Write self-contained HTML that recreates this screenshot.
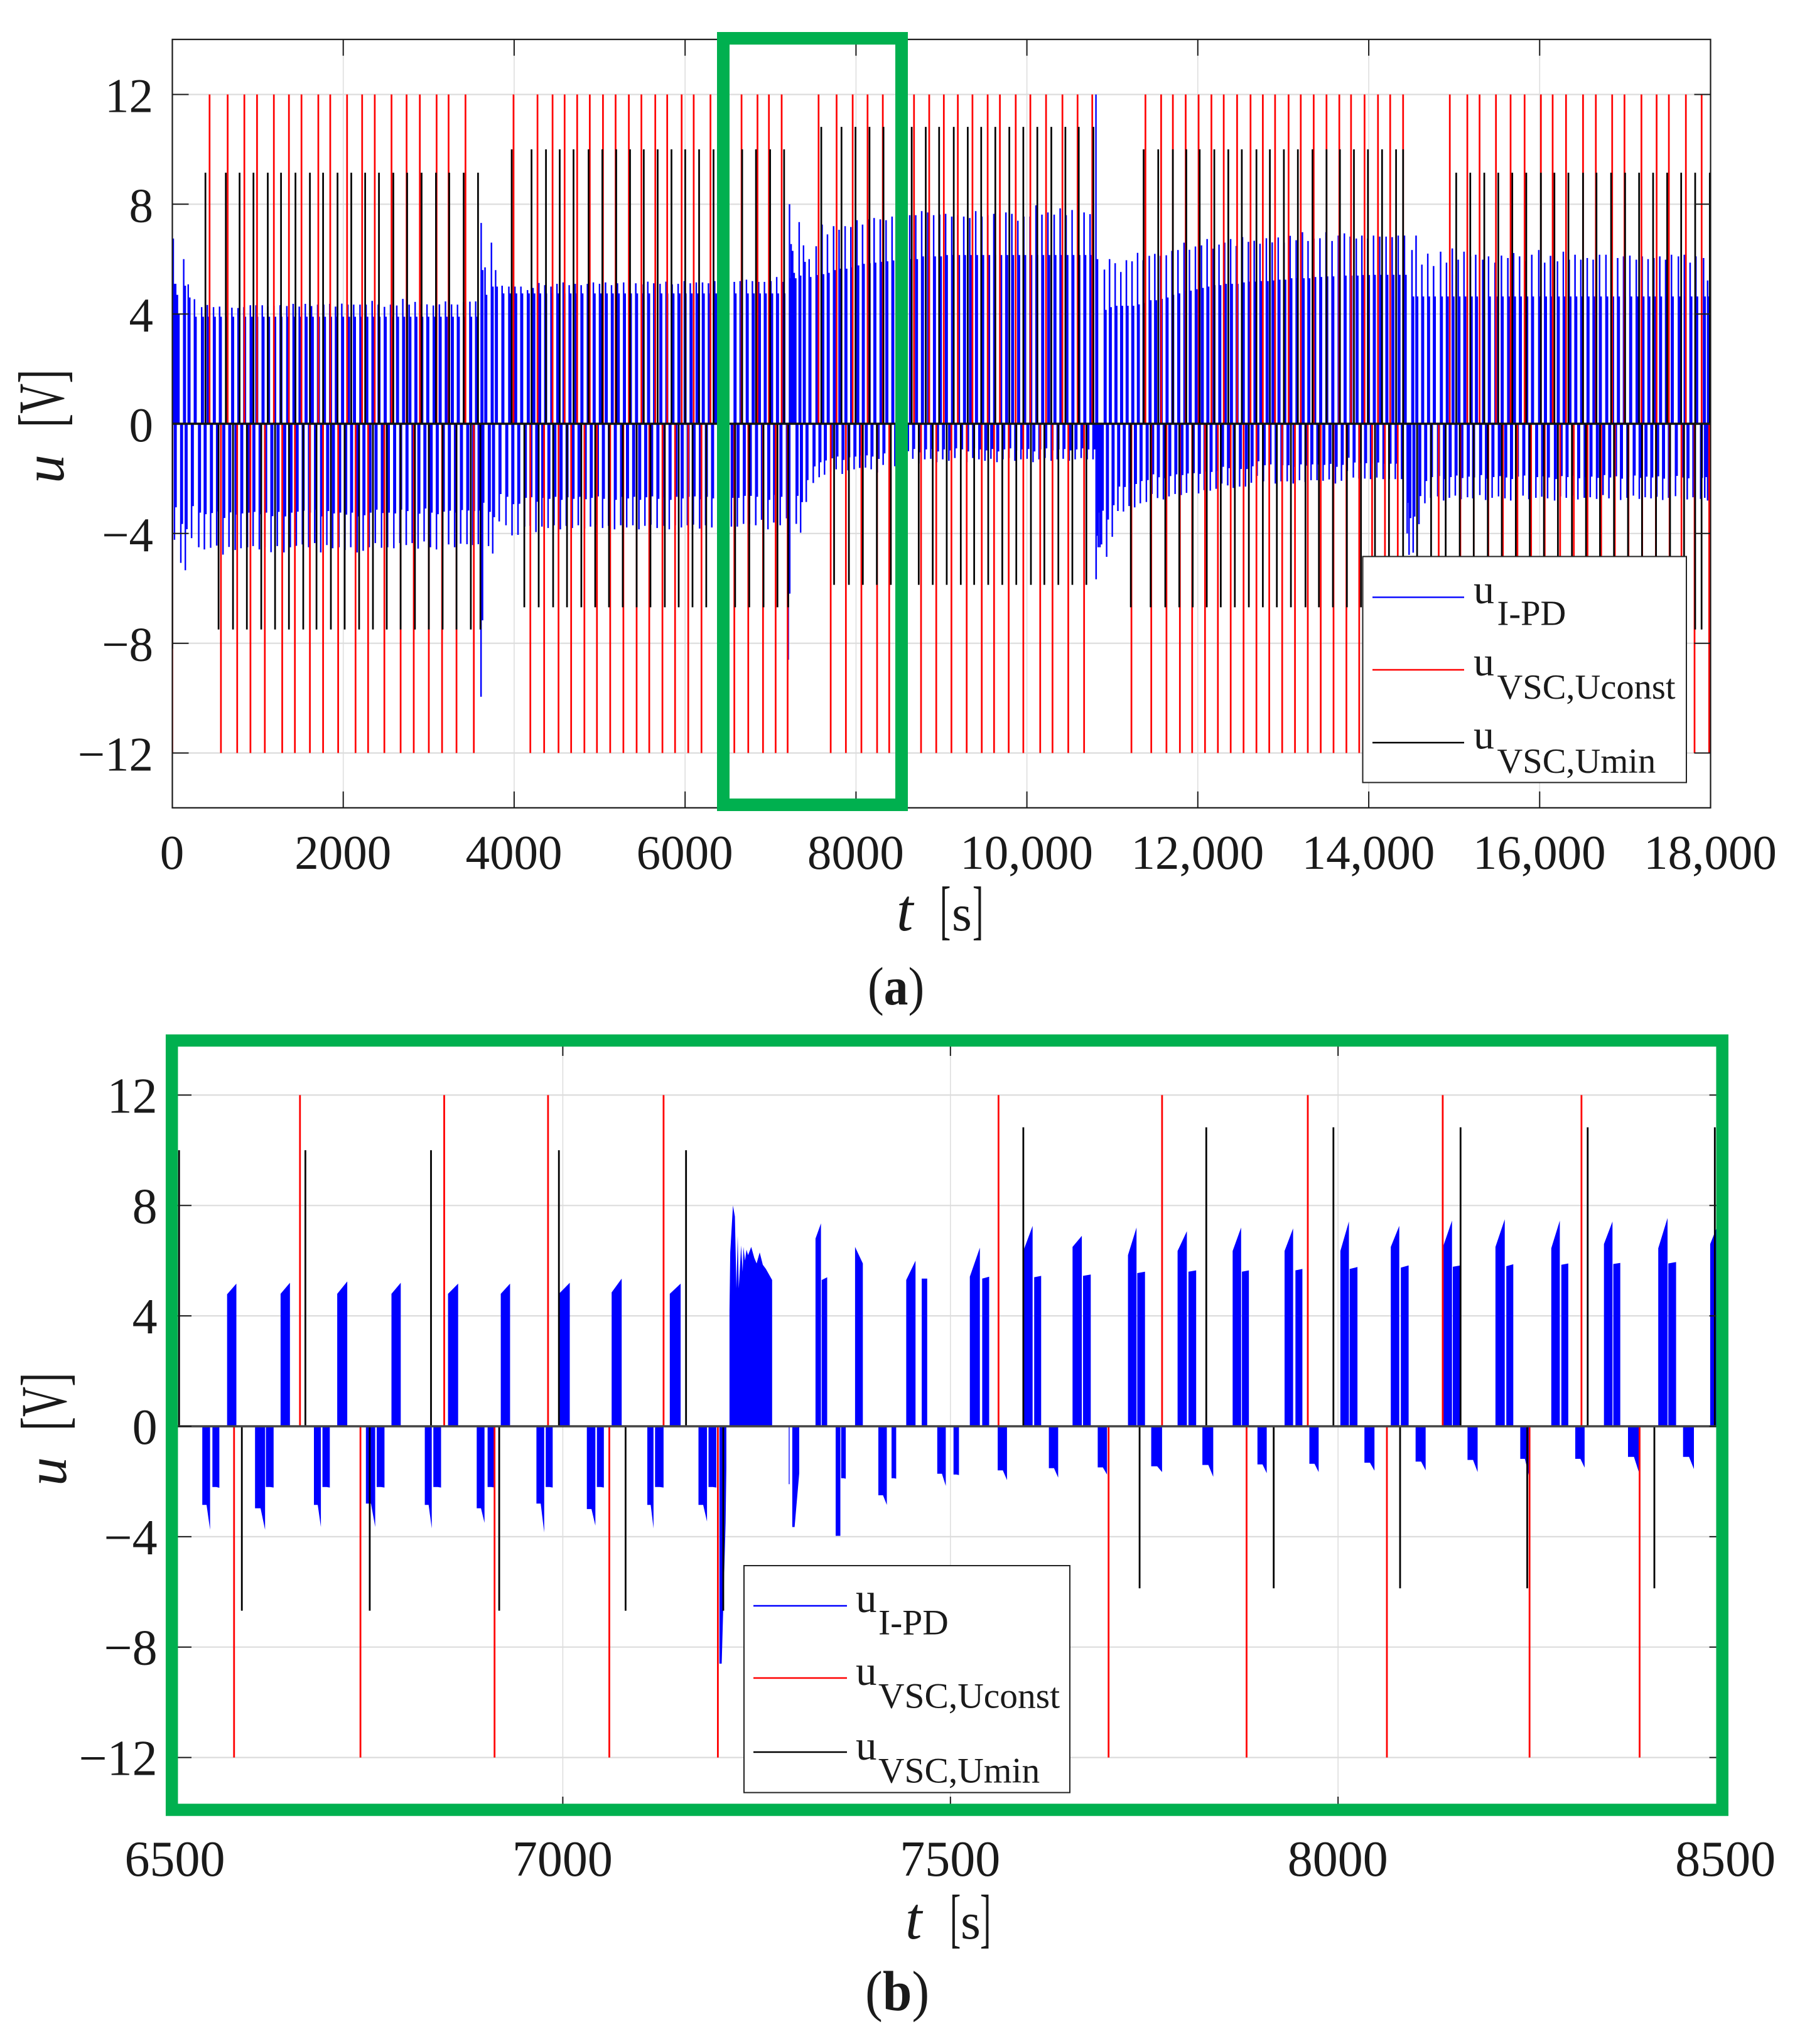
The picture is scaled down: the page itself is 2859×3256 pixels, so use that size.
<!DOCTYPE html>
<html lang="en">
<head>
<meta charset="utf-8">
<title>Control signal u over time</title>
<style>
html,body{margin:0;padding:0;background:#fff;}
svg{display:block;}
text{font-family:"Liberation Serif",serif;fill:#1a1a1a;}
</style>
</head>
<body>
<svg id="figure" xmlns="http://www.w3.org/2000/svg" width="2859" height="3256" viewBox="0 0 2859 3256">
  <rect x="0" y="0" width="2859" height="3256" fill="#fff"/>
  <defs>
    <clipPath id="clip-a"><rect x="274.5" y="62.8" width="2450" height="1224"/></clipPath>
    <clipPath id="clip-b"><rect x="279" y="1656" width="2470" height="1232"/></clipPath>
  </defs>

  <g id="panel-a"></g>
  <g id="panel-b"></g>

  <rect x="1152" y="61" width="284" height="1221" fill="none" stroke="#00b04f" stroke-width="20"/>
  <rect x="273.7" y="1657.5" width="2469.5" height="1225.5" fill="none" stroke="#00b04f" stroke-width="19.5"/>

  <g>
    <rect x="2170.5" y="886.5" width="515.5" height="360" fill="#fff" stroke="#222" stroke-width="2"/>
    <line x1="2186" x2="2332" y1="951.4" y2="951.4" stroke="#0000ff" stroke-width="2.4"/>
    <line x1="2186" x2="2332" y1="1067" y2="1067" stroke="#ff0000" stroke-width="2.4"/>
    <line x1="2186" x2="2332" y1="1183" y2="1183" stroke="#000" stroke-width="2.4"/>
    <text x="2347" y="961" font-size="66">u</text>
    <text x="2384.5" y="995.6" font-size="56.5">I-PD</text>
    <text x="2347" y="1076" font-size="66">u</text>
    <text x="2384.5" y="1113" font-size="56.5">VSC,Uconst</text>
    <text x="2347" y="1192.5" font-size="66">u</text>
    <text x="2384.5" y="1231" font-size="56.5">VSC,Umin</text>
  </g>

  <g>
    <rect x="1185" y="2494" width="519" height="361.5" fill="#fff" stroke="#222" stroke-width="2"/>
    <line x1="1200" x2="1349" y1="2558" y2="2558" stroke="#0000ff" stroke-width="2.4"/>
    <line x1="1200" x2="1349" y1="2673" y2="2673" stroke="#ff0000" stroke-width="2.4"/>
    <line x1="1200" x2="1349" y1="2791" y2="2791" stroke="#000" stroke-width="2.4"/>
    <text x="1363" y="2568" font-size="67">u</text>
    <text x="1399" y="2603.6" font-size="57.5">I-PD</text>
    <text x="1363" y="2684" font-size="67">u</text>
    <text x="1399" y="2720.7" font-size="57.5">VSC,Uconst</text>
    <text x="1363" y="2803" font-size="67">u</text>
    <text x="1399" y="2839.6" font-size="57.5">VSC,Umin</text>
  </g>

  <g>
    <text transform="translate(101,770) rotate(-90)" font-size="92" font-style="italic">u</text>
    <text transform="translate(101,681) rotate(-90) scale(.64,1)" font-size="104">[V]</text>
  </g>
  <g>
    <text x="1428" y="1482" font-size="95" font-style="italic">t</text>
    <text transform="translate(1497,1484) scale(.5,1)" font-size="104">[</text>
    <text x="1516" y="1482" font-size="82">s</text>
    <text transform="translate(1549,1484) scale(.5,1)" font-size="104">]</text>
  </g>
  <text transform="translate(1382,1600) scale(.9,1)" font-size="86" fill="#000">(<tspan font-weight="bold">a</tspan>)</text>

  <g>
    <text transform="translate(105,2367) rotate(-90)" font-size="92" font-style="italic">u</text>
    <text transform="translate(105,2279) rotate(-90) scale(.64,1)" font-size="104">[V]</text>
  </g>
  <g>
    <text x="1442" y="3088" font-size="95" font-style="italic">t</text>
    <text transform="translate(1513,3090) scale(.5,1)" font-size="104">[</text>
    <text x="1530" y="3088" font-size="82">s</text>
    <text transform="translate(1561,3090) scale(.5,1)" font-size="104">]</text>
  </g>
  <text transform="translate(1378,3202) scale(.93,1)" font-size="90" fill="#000">(<tspan font-weight="bold">b</tspan>)</text>
</svg>

<script>
// ---------- shared axis data ----------
const yTicks = [-12, -8, -4, 0, 4, 8, 12];
const yTickLabels = ['\u221212', '\u22128', '\u22124', '0', '4', '8', '12'];

// ---------- panel (a) axis data ----------
const aXTicks = [0, 2000, 4000, 6000, 8000, 10000, 12000, 14000, 16000, 18000];
const aXTickLabels = ['0', '2000', '4000', '6000', '8000', '10,000', '12,000', '14,000', '16,000', '18,000'];

// ---------- panel (a) red series: u_VSC,Uconst (s) ----------
const aRedUpLevel = 12;
const aRedDownLevel = -12;
const aRedUpTimes = [436,647,843,991,1188,1364,1511,1708,1848,2045,2221,2369,2565,2741,2896,3092,3233,3430,
  3992,4273,4449,4590,4737,4885,5039,5187,5342,5489,5651,5791,5960,6101,6297,6661,6847,6981,7130,7562,7773,7961,8135,8314,
  8679,8857,9028,9192,9363,9541,9684,9869,10040,10224,10416,10593,10765,
  11387,11571,11708,11858,12009,12159,12303,12460,12617,12761,12904,13062,13205,13356,13506,13656,13793,13951,14108,14251,14402,
  14949,15154,15297,15489,15660,15824,16015,16152,16309,16508,16658,16849,16993,17191,17369,17512,17711,17896];
const aRedDownTimes = [0,569,759,914,1082,1286,1434,1610,1764,1940,2144,2291,2481,2671,2825,3001,3156,3325,3528,
  4189,4351,4519,4667,4822,4969,5124,5278,5433,5581,5735,5883,6037,6192,6576,6739,6912,7060,7200,7704,7882,8063,8247,8389,
  8761,8939,9117,9295,9472,9616,9787,9958,10156,10300,10484,10669,
  11223,11455,11633,11790,11934,12084,12235,12385,12535,12686,12836,12987,13137,13287,13438,13588,13739,13889,14039,14190,14340,
  14819,15072,15229,15400,15570,15740,15900,16060,16240,16400,16560,16720,16880,17040,17200,17360,17520,17660,17813,17984];

// ---------- panel (a) black series: u_VSC,Umin ----------
const aBlackUpLevels = [9.15, 10, 10.82, 10, 9.15];
const aBlackUpTimes = [
  [387,626,787,949,1117,1272,1441,1610,1764,1933,2094,2256,2418,2586,2748,2917,3085,3240,3409,3577],
  [3971,4203,4372,4533,4695,4871,5032,5194,5356,5517,5679,5841,6002,6164,6333,6505,6668,6830,6995,7159],
  [7594,7830,7994,8158,8322,8486,8652,8816,8973,9144,9308,9465,9630,9794,9958,10122,10286,10450,10607,10778],
  [11366,11537,11708,11865,12022,12193,12357,12515,12686,12843,13007,13171,13342,13506,13663,13827,13991,14156,14320,14402],
  [15024,15188,15352,15516,15680,15844,16015,16173,16337,16508,16665,16836,17000,17164,17328,17492,17656,17820,17991]
];
const aBlackDownLevels = [-8.2, -7.5, -6.69, -5.87, -6.69, -7.5];
const aBlackDownTimes = [
  [0],
  [541,710,872,1040,1202,1364,1532,1687,1855,2017,2186,2347,2509,2671,2839,3001,3163,3325,3493,3605],
  [4119,4287,4456,4618,4786,4948,5110,5271,5433,5595,5763,5925,6087,6248,6586,6751,6918,7081,7207],
  [7744,7917,8080,8244,8408,8734,8898,9062,9226,9383,9547,9712,9876,10047,10204,10368,10532,10696],
  [11216,11448,11619,11783,11940,12105,12269,12433,12597,12761,12925,13089,13260,13417,13581,13745,13909,14073,14237,14402],
  [14566,14730,14900,15065,15229,15393,15557,15721,15885,16050,16214,16378,16542,16706,16870,17034,17198,17362,17526,17690,17820,17895]
];

// ---------- panel (a) blue series: u_I-PD, one entry per switching cycle ----------
const aBlueTimes = [
  2,30,50,124,177,250,334,
  400,473,544,618,688,760,828,904,970,1043,1108,1180,1253,1331,1405,1476,1547,1620,1691,1762,1833,1901,1974,2045,2113,2187,2258,2329,2400,2473,2544,2617,2688,2762,2832,2901,2971,3045,3116,3187,3258,3328,3399,3473,3541,
  3605,3637,3650,3725,3774,3850,3929,
  4000,4070,4147,4212,4280,4350,4422,4492,4565,4635,4705,4775,4848,4918,4990,5060,5130,5200,5272,5342,5414,5485,5555,5625,5698,5768,5840,5910,5982,6052,6122,6195,6265,6338,6408,6478,
  6567,6636,6709,6779,6852,6920,6995,7063,7138,7213,7232,7250,7268,7326,7377,7443,7525,7594,7657,7729,7793,7864,7931,8003,8068,8136,8203,8275,8343,8413,8480,
  8550,8620,8690,8760,8830,8900,8970,9040,9112,9182,9252,9322,9392,9464,9534,9604,9675,9745,9815,9885,9955,10027,10097,10167,10237,10310,10380,10450,10520,10590,10660,10730,
  10799,10835,10860,10880,
  10898,10958,11024,11090,11155,11221,11286,11352,11423,11488,11554,11622,11688,11759,11830,11893,11963,12034,12100,12171,12239,12305,12375,12441,12514,12583,12651,12719,12793,12861,12932,13000,13071,13142,13215,13281,13350,13420,13491,13562,13635,13706,13774,13845,13911,13979,14047,14120,14194,14265,14336,14409,
  14475,14497,14545,14613,14682,14750,14832,14901,14969,15038,15106,15181,15243,15325,15393,15469,15544,15619,15687,15756,15831,15899,15981,16050,16118,16200,16268,16337,16405,16473,16548,16617,16692,16767,16836,16904,16973,17047,17122,17191,17260,17328,17397,17465,17534,17615,17684,17752,17820,17909,17957,17991
];
const aBluePosPeak = [
  6.75,5.1,4.7,6.0,5.08,4.54,4.25,
  4.33,4.25,4.27,4.12,4.23,4.22,4.25,4.32,4.32,4.32,4.27,4.3,4.32,4.29,4.37,4.27,4.37,4.29,4.34,4.34,4.37,4.27,4.38,4.34,4.34,4.34,4.34,4.48,4.34,4.26,4.34,4.31,4.55,4.34,4.44,4.34,4.35,4.31,4.35,4.46,4.35,4.34,4.43,4.45,4.46,
  7.32,0,5.7,6.6,5.6,5.03,5.0,
  5.0,5.0,4.87,4.95,5.13,5.05,5.0,5.1,5.15,5.05,5.1,5.05,5.1,5.15,5.1,5.15,5.05,5.12,5.15,5.1,5.12,5.08,5.18,5.12,5.1,5.18,5.08,5.1,5.2,5.12,5.15,5.15,5.12,5.2,5.22,5.2,
  5.17,5.2,5.25,5.2,5.17,5.17,5.2,5.35,5.17,8.0,6.55,6.3,5.5,7.35,6.5,6.0,6.47,7.26,6.9,7.2,7.07,7.2,7.17,7.42,7.26,7.45,7.5,7.45,7.42,7.55,7.5,
  7.55,7.6,7.6,7.75,7.7,7.6,7.62,7.65,7.55,7.6,7.55,7.5,7.75,7.55,7.6,7.65,7.65,7.7,7.65,7.4,7.55,7.55,7.96,7.62,7.7,7.62,7.85,7.6,7.79,7.6,7.7,7.64,
  12,0,0,0,
  5.62,6.0,5.85,5.53,5.96,5.92,6.23,5.96,6.12,6.19,6.12,6.14,6.3,6.33,6.6,6.34,6.46,6.5,6.73,6.38,6.53,6.6,6.73,6.48,6.8,6.63,6.67,6.56,6.76,6.61,6.79,6.6,6.85,6.69,6.98,6.66,6.75,6.76,6.98,6.66,6.86,6.94,6.82,6.75,6.86,6.75,6.86,6.82,6.82,6.8,6.86,6.86,
  0,6.33,6.86,5.8,6.2,5.75,6.27,5.87,6.39,5.98,6.27,6.1,6.16,5.98,6.1,5.87,6.13,6.04,6.22,6.1,5.92,6.16,6.33,5.87,6.12,5.92,6.27,5.98,6.16,5.98,6.04,5.98,6.16,6.16,5.87,6.04,6.1,6.13,5.98,6.1,6.0,6.04,6.1,5.98,6.16,6.1,6.16,5.87,6.1,6.04,5.22,6.2
];
const aBlueNegPeak = [
  0,0,-4.23,-5.07,-5.34,-4.17,-4.5,
  -4.58,-4.52,-4.44,-4.77,-4.49,-4.6,-4.54,-4.5,-4.46,-4.58,-4.5,-4.68,-4.46,-4.69,-4.5,-4.45,-4.4,-4.5,-4.35,-4.69,-4.42,-4.54,-4.5,-4.6,-4.5,-4.69,-4.63,-4.5,-4.35,-4.52,-4.5,-4.54,-4.35,-4.42,-4.35,-4.55,-4.29,-4.5,-4.58,-4.45,-4.4,-4.5,-4.37,-4.39,-4.42,
  -4.39,-9.95,-4.0,-4.46,-4.73,-3.56,-3.7,
  -4.07,-4.05,-3.75,-3.72,-3.95,-3.75,-3.8,-3.7,-3.85,-3.72,-3.8,-3.7,-3.82,-3.75,-3.68,-3.8,-3.72,-3.85,-3.7,-3.78,-3.7,-3.85,-3.72,-3.68,-3.8,-3.72,-3.85,-3.7,-3.78,-3.7,-3.68,-3.82,-3.7,-3.78,-3.75,-3.72,
  -3.75,-3.75,-3.65,-3.65,-3.7,-3.5,-3.85,-3.6,-3.7,-3.45,-8.6,0,0,-3.65,-3.97,-2.85,-2.16,-1.95,-1.86,-1.75,-1.66,-1.83,-1.7,-1.66,-1.61,-1.6,-1.66,-1.78,-1.5,-1.66,-1.55,
  -1.53,-1.39,-1.28,-1.45,-1.3,-1.28,-1.4,-1.3,-1.35,-1.25,-1.3,-1.4,-1.25,-1.3,-1.35,-1.28,-1.4,-1.3,-1.25,-1.35,-1.3,-1.28,-1.4,-1.3,-1.25,-1.35,-1.3,-1.28,-1.35,-1.3,-1.25,-1.3,
  -1.3,-5.67,-4.5,-4.5,
  -4.4,-4.85,-4.12,-3.18,-3.2,-3.0,-3.05,-2.9,-2.85,-2.56,-2.71,-2.76,-2.65,-2.56,-2.6,-2.52,-2.5,-2.54,-2.42,-2.44,-2.37,-2.18,-2.25,-2.34,-2.29,-2.29,-2.15,-1.9,-2.1,-2.06,-2.18,-2.1,-2.1,-2.18,-2.06,-2.12,-2.06,-2.06,-2.08,-2.03,-2.18,-2.08,-1.72,-1.96,-2.0,-2.0,-2.02,-1.96,-2.02,-2.02,-2.02,-2.02,
  -4.0,-4.78,-4.7,-3.66,-2.9,-2.7,-2.65,-2.8,-2.7,-2.62,-2.75,-2.68,-2.72,-2.6,-2.78,-2.7,-2.65,-2.72,-2.8,-2.68,-2.62,-2.75,-2.7,-2.66,-2.72,-2.8,-2.65,-2.7,-2.62,-2.76,-2.7,-2.68,-2.74,-2.6,-2.72,-2.66,-2.78,-2.7,-2.62,-2.74,-2.68,-2.72,-2.66,-2.78,-2.7,-2.64,-2.72,-2.76,-2.68,-2.74,-2.7,-2.8
];
// Solid-body height of each positive burst, by time range (period start -> level).
const aBlueShoulderFrom = [0,30,50,100,150,200,3590,3650,3700,3800,7200,7300,7360,7400,7500,7580,7640,7700,7780,7900,7980,8050,8120,8190,8260,8330,8400,8470,8700,9000,10790,10880,10950,11000,11270,11340,11400,11540,11600,11670,11740,11810,11950,12020,12090,12160,12290,12500,12570,12700,12850,12920,13060,13340,13480,13700,13900,14030,14440];
const aBlueShoulderLevel = [5.1,4.7,4.0,5.03,4.6,3.9,5.6,4.7,5.0,4.75,5.3,5.4,5.9,5.35,5.42,5.45,5.5,5.6,5.65,5.7,5.77,5.83,5.85,5.87,5.9,5.92,5.95,6.0,6.1,6.15,6.0,4.15,4.25,4.3,4.35,4.4,4.5,4.55,4.6,4.7,4.75,4.85,4.9,4.95,5.0,5.05,5.1,5.15,5.18,5.2,5.22,5.25,5.3,5.35,5.37,5.4,5.42,5.43,4.64];

// ---------- panel (b) axis data ----------
const bXTicks = [6500, 7000, 7500, 8000, 8500];
const bXTickLabels = ['6500', '7000', '7500', '8000', '8500'];

// ---------- panel (b) red and black series ----------
const bRedUpLevel = 12;
const bRedDownLevel = -12;
const bRedUpTimes = [6661,6847,6981,7130,7562,7773,7961,8135,8314];
const bRedDownTimes = [6576,6739,6912,7060,7200,7704,7882,8063,8247,8389];
const bBlackUpLevels = [10, 10.83];
const bBlackUpTimes = [[6505,6668,6830,6995,7159],[7594,7830,7994,8158,8322,8486]];
const bBlackDownLevels = [-6.68, -5.87];
const bBlackDownTimes = [[6586,6751,6918,7081,7207],[7744,7917,8080,8244,8408]];

// ---------- panel (b) blue series: positive burst segments ----------
const bPosStart = [6567,6636,6709,6779,6852,6920,6995,7063,7138,7326,7334,7377,7443,7463,7525,7541,7594,7608,7657.5,7671,7729,7741,7793,7807,7864,7876,7931,7945,8003,8015,8068,8081,8136,8148,8203,8217,8275,8288,8343,8355,8413,8426,8480];
const bPosEnd = [6579,6648,6722,6791,6865,6932,7009,7076,7152,7333,7341,7387,7455,7470,7538,7550,7606,7617,7669.5,7681,7740,7751,7805,7817,7875,7885,7942,7954,8014,8025,8079,8091,8147,8158,8215,8226,8286,8297,8354,8364,8425,8436,8488];
const bPosLow = [4.78,4.8,4.8,4.8,4.8,4.8,4.8,4.85,4.8,6.8,5.3,6.5,5.3,5.35,5.42,5.35,6.35,5.4,6.5,5.45,6.2,5.55,6.35,5.6,6.35,5.6,6.35,5.65,6.35,5.7,6.5,5.75,6.55,5.78,6.5,5.8,6.45,5.85,6.6,5.88,6.45,5.9,6.6];
const bPosHigh = [5.17,5.2,5.25,5.2,5.17,5.17,5.2,5.35,5.17,7.35,5.4,5.9,6.0,5.35,6.47,5.42,7.26,5.45,6.9,5.5,7.2,5.6,7.07,5.65,7.2,5.65,7.17,5.7,7.42,5.77,7.26,5.83,7.45,5.83,7.5,5.87,7.45,5.9,7.42,5.92,7.55,5.95,7.17];

// ---------- panel (b) blue series: negative burst segments ----------
const bNegStart = [6535,6548,6603,6617,6679,6690,6746,6760,6822,6833,6889,6903,6966,6978,7031,7044,7109,7119,7175,7188,7291.5,7352,7359,7407,7424,7483,7504,7561,7627,7690,7759,7825,7896,7963,8034,8100,8167,8235,8306,8374,8445];
const bNegEnd = [6545,6557,6616,6627,6688,6699.5,6758,6770,6831,6843,6899,6912,6976,6987,7042,7053,7117,7130,7186,7198,7292.5,7358,7365,7418,7430,7494,7511,7573,7639,7702,7773,7839,7908,7975,8047,8113,8180,8246,8318,8388,8459];
const bNegKnee = [-2.85,-2.2,-2.97,-2.2,-2.85,-2.2,-2.8,-2.2,-2.85,-2.2,-2.97,-2.2,-2.8,-2.2,-3.0,-2.2,-2.85,-2.2,-2.85,-2.2,-2.1,-3.97,-1.88,-2.5,-1.88,-1.72,-1.75,-1.6,-1.52,-1.49,-1.45,-1.4,-1.38,-1.36,-1.32,-1.28,-1.22,-1.18,-1.18,-1.11,-1.11];
const bNegDeep = [-3.75,-2.23,-3.75,-2.22,-3.65,-2.22,-3.65,-2.22,-3.7,-2.22,-3.5,-2.22,-3.85,-2.22,-3.6,-2.22,-3.7,-2.22,-3.45,-2.22,-2.1,-3.97,-1.9,-2.85,-1.9,-2.16,-1.77,-1.95,-1.86,-1.75,-1.66,-1.83,-1.7,-1.66,-1.61,-1.6,-1.66,-1.78,-1.5,-1.66,-1.55];

// ---------- panel (b) blue series: irregular transient outlines ----------
const bChaosT = [7215,7216,7219.5,7222,7224,7225.6,7227,7230,7232,7233,7235,7237,7239,7243,7247,7250,7254,7258,7262,7266,7270];
const bChaosV = [4.2,6.3,8.0,7.6,5.0,6.9,5.0,6.55,5.6,6.5,6.0,6.4,6.2,6.5,6.1,5.9,6.3,5.85,5.7,5.5,5.3];
const bDipT = [7202,7205,7210,7211];
const bDipV = [-8.6,-8.6,-3.5,-1.5];
const bDip2T = [7296,7299,7305];
const bDip2V = [-3.65,-3.65,-1.7];

// ---------- helpers ----------
const NS = 'http://www.w3.org/2000/svg';
function el(parent, tag, attrs) {
  const n = document.createElementNS(NS, tag);
  for (const k in attrs) n.setAttribute(k, attrs[k]);
  parent.appendChild(n);
  return n;
}
function linear(d0, d1, r0, r1) {
  return v => r0 + (v - d0) * (r1 - r0) / (d1 - d0);
}
function spikes(times, level, x, y) {
  return times.map(t => 'M' + x(t).toFixed(1) + ' ' + y(0).toFixed(1) + 'V' + y(level).toFixed(1)).join('');
}
function box(t0, t1, v, x, y) {
  return 'M' + x(t0).toFixed(1) + ' ' + y(0).toFixed(1) +
    'V' + y(v).toFixed(1) + 'H' + x(t1).toFixed(1) + 'V' + y(0).toFixed(1) + 'Z';
}
function outline(ts, vs, x, y) {
  let d = 'M' + x(ts[0]).toFixed(1) + ' ' + y(0).toFixed(1);
  ts.forEach((t, i) => { d += 'L' + x(t).toFixed(1) + ' ' + y(vs[i]).toFixed(1); });
  return d + 'L' + x(ts[ts.length - 1]).toFixed(1) + ' ' + y(0).toFixed(1) + 'Z';
}

function drawFrame(g, cfg) {
  const x = cfg.x, y = cfg.y;
  let gridD = '';
  cfg.xTicks.forEach(t => { gridD += 'M' + x(t).toFixed(1) + ' ' + cfg.top + 'V' + cfg.bottom; });
  const gridX = el(g, 'path', {d: gridD, stroke: '#dedede', 'stroke-width': 1.6, fill: 'none'});
  
  
  let gridYD = '';
  yTicks.forEach(v => { gridYD += 'M' + cfg.left + ' ' + y(v).toFixed(1) + 'H' + cfg.right; });
  const gridY = el(g, 'path', {d: gridYD, stroke: '#dcdcdc', 'stroke-width': 2.2, fill: 'none'});
  
  
}

function drawAxes(g, cfg) {
  const x = cfg.x, y = cfg.y;
  let tickD = '';
  cfg.xTicks.forEach(t => {
    tickD += 'M' + x(t).toFixed(1) + ' ' + cfg.top + 'v26M' + x(t).toFixed(1) + ' ' + cfg.bottom + 'v-26';
  });
  yTicks.forEach(v => {
    tickD += 'M' + cfg.left + ' ' + y(v).toFixed(1) + 'h26M' + cfg.right + ' ' + y(v).toFixed(1) + 'h-26';
  });
  const ticks = el(g, 'path', {d: tickD, stroke: '#1a1a1a', 'stroke-width': 2, fill: 'none'});
  
  
  const frame = el(g, 'rect', {x: cfg.left, y: cfg.top, width: cfg.right - cfg.left, height: cfg.bottom - cfg.top, fill: 'none', stroke: '#1a1a1a', 'stroke-width': 2.2});
  
  
  cfg.xTicks.forEach((t, i) => {
    const lab = el(g, 'text', {x: x(t) - 0.5, y: cfg.xLabelY, 'font-size': cfg.fontSize, 'text-anchor': 'middle'});
    
    
    lab.textContent = cfg.xLabels[i];
  });
  yTicks.forEach((v, i) => {
    const lab = el(g, 'text', {x: cfg.yLabelX, y: y(v) + 28, 'font-size': cfg.fontSize, 'text-anchor': 'end'});
    
    
    lab.textContent = yTickLabels[i];
  });
}

function drawEventSeries(g, clip, cfg, ev) {
  const x = cfg.x, y = cfg.y;
  let redD = spikes(ev.redUp, ev.redUpLevel, x, y) + spikes(ev.redDown, ev.redDownLevel, x, y);
  const red = el(g, 'path', {d: redD, stroke: '#ff0000', 'stroke-width': cfg.spikeWidth, fill: 'none', 'clip-path': clip});
  
  
  let blackD = '';
  ev.blackUp.forEach((times, i) => { blackD += spikes(times, ev.blackUpLevels[i], x, y); });
  ev.blackDown.forEach((times, i) => { blackD += spikes(times, ev.blackDownLevels[i], x, y); });
  const black = el(g, 'path', {d: blackD, stroke: '#000', 'stroke-width': cfg.spikeWidth, fill: 'none', 'clip-path': clip});
  
  
  const zero = el(g, 'line', {x1: cfg.left, x2: cfg.right, y1: y(0), y2: y(0), stroke: cfg.zeroColor, 'stroke-width': 3.6});
  
  
}

// ---------- panel (a) ----------
(function () {
  const g = document.getElementById('panel-a');
  const cfg = {
    x: linear(0, 18000, 274.5, 2724.5),
    y: linear(0, 12, 675, 150.5),
    left: 274.5, right: 2724.5, top: 62.8, bottom: 1286.8,
    xTicks: aXTicks, xLabels: aXTickLabels,
    xLabelY: 1384, yLabelX: 244, fontSize: 77, zeroColor: '#111', spikeWidth: 2.7
  };
  const x = cfg.x, y = cfg.y;
  const BODY_SPAN = 36, TIP_SPAN = 18, NEG_OFFSET = -34, NEG_BODY = 36, NEG_TIP = 18, NEG_BODY_RATIO = 0.72;
  function shoulderAt(t) {
    let s = aBlueShoulderLevel[0];
    aBlueShoulderFrom.forEach((from, i) => { if (t >= from) s = aBlueShoulderLevel[i]; });
    return s;
  }
  drawFrame(g, cfg);
  let posD = '', negD = '';
  aBlueTimes.forEach((t, i) => {
    const peak = aBluePosPeak[i] || 0, neg = aBlueNegPeak[i] || 0;
    if (peak > 0) {
      posD += box(t, t + BODY_SPAN, Math.min(shoulderAt(t), peak), x, y);
      posD += box(t, t + TIP_SPAN, peak, x, y);
    }
    if (neg < 0) {
      const n = t + NEG_OFFSET;
      negD += box(n, n + NEG_BODY, neg * NEG_BODY_RATIO, x, y);
      negD += box(n, n + NEG_TIP, neg, x, y);
    }
  });
  const bluePos = el(g, 'path', {d: posD, fill: '#0000ff', 'fill-rule': 'nonzero', 'clip-path': 'url(#clip-a)'});
  
  
  const blueNeg = el(g, 'path', {d: negD, fill: '#0000ff', 'fill-rule': 'nonzero', 'clip-path': 'url(#clip-a)'});
  
  
  drawEventSeries(g, 'url(#clip-a)', cfg, {
    redUp: aRedUpTimes, redDown: aRedDownTimes, redUpLevel: aRedUpLevel, redDownLevel: aRedDownLevel,
    blackUp: aBlackUpTimes, blackUpLevels: aBlackUpLevels,
    blackDown: aBlackDownTimes, blackDownLevels: aBlackDownLevels
  });
  drawAxes(g, cfg);
})();

// ---------- panel (b) ----------
(function () {
  const g = document.getElementById('panel-b');
  const cfg = {
    x: linear(6500, 8500, 279, 2748.6),
    y: linear(0, 12, 2272, 1744.4),
    left: 279, right: 2748.6, top: 1656, bottom: 2888,
    xTicks: bXTicks, xLabels: bXTickLabels,
    xLabelY: 2988, yLabelX: 250.6, fontSize: 80, zeroColor: '#444', spikeWidth: 2.8
  };
  const x = cfg.x, y = cfg.y;
  const NEG_KNEE_AT = 0.55;
  drawFrame(g, cfg);
  let posD = '', negD = '';
  bPosStart.forEach((s, i) => {
    const e = bPosEnd[i];
    posD += 'M' + x(s).toFixed(1) + ' ' + y(0).toFixed(1) +
      'L' + x(s).toFixed(1) + ' ' + y(bPosLow[i]).toFixed(1) +
      'L' + x(e).toFixed(1) + ' ' + y(bPosHigh[i]).toFixed(1) +
      'L' + x(e).toFixed(1) + ' ' + y(0).toFixed(1) + 'Z';
  });
  posD += outline(bChaosT, bChaosV, x, y);
  bNegStart.forEach((s, i) => {
    const e = bNegEnd[i];
    const m = s + (e - s) * NEG_KNEE_AT;
    negD += 'M' + x(s).toFixed(1) + ' ' + y(0).toFixed(1) +
      'L' + x(s).toFixed(1) + ' ' + y(bNegKnee[i]).toFixed(1) +
      'L' + x(m).toFixed(1) + ' ' + y(bNegKnee[i]).toFixed(1) +
      'L' + x(e).toFixed(1) + ' ' + y(bNegDeep[i]).toFixed(1) +
      'L' + x(e).toFixed(1) + ' ' + y(0).toFixed(1) + 'Z';
  });
  negD += outline(bDipT, bDipV, x, y) + outline(bDip2T, bDip2V, x, y);
  const bluePos = el(g, 'path', {d: posD, fill: '#0000ff', 'clip-path': 'url(#clip-b)'});
  
  
  const blueNeg = el(g, 'path', {d: negD, fill: '#0000ff', 'clip-path': 'url(#clip-b)'});
  
  
  drawEventSeries(g, 'url(#clip-b)', cfg, {
    redUp: bRedUpTimes, redDown: bRedDownTimes, redUpLevel: bRedUpLevel, redDownLevel: bRedDownLevel,
    blackUp: bBlackUpTimes, blackUpLevels: bBlackUpLevels,
    blackDown: bBlackDownTimes, blackDownLevels: bBlackDownLevels
  });
  drawAxes(g, cfg);
})();
</script>
</body>
</html>
